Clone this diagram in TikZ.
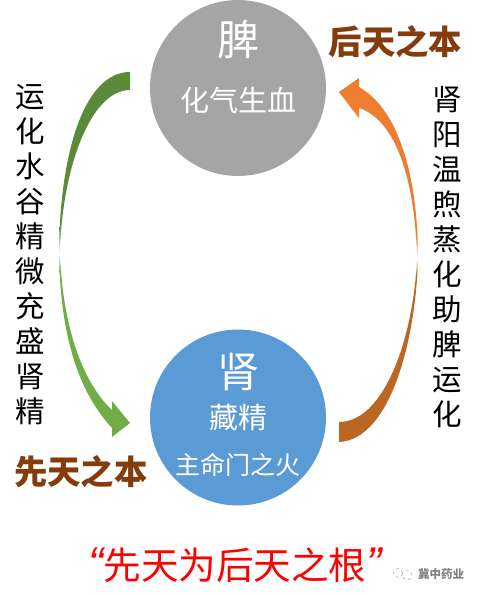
\documentclass[tikz,border=0pt]{standalone}
\usepackage{fontspec}
\setmainfont{Noto Sans CJK SC}
\newfontfamily\quotefont{Liberation Sans}
\definecolor{spleen}{HTML}{A5A5A5}
\definecolor{kidney}{HTML}{5B9BD5}
\definecolor{brownlabel}{HTML}{843C0C}
\definecolor{greenA}{HTML}{5B8B38}
\definecolor{greenB}{HTML}{70AD47}
\definecolor{orangeA}{HTML}{ED7D31}
\definecolor{orangeB}{HTML}{BC6624}
\newcommand{\fs}[1]{\fontsize{#1}{#1}\selectfont}
\tikzset{
  organ/.style={circle,minimum size=176pt,inner sep=0pt},
  big/.style={text=white,font=\fs{42},inner sep=0pt},
  mid/.style={text=white,font=\fs{29},inner sep=0pt},
  small/.style={text=white,font=\fs{25},inner sep=0pt},
  rootlabel/.style={text=brownlabel,font=\fs{33.4}\bfseries,inner sep=0pt},
  column/.style={align=center,inner sep=0pt,font=\fontsize{29.5}{35}\selectfont},
}
\begin{document}
\begin{tikzpicture}[x=1pt,y=-1pt]
\useasboundingbox (0,0) rectangle (478,595);
\node[organ,fill=spleen] (pi) at (238,88) {};
\node[organ,fill=kidney] (shen) at (238,417.5) {};
\node[big] (pit) at (238,40) {脾};
\node[mid] (pis) at (238,100) {化气生血};
\node[big] (shent) at (238,372) {肾};
\node[mid] (shens) at (238,418) {藏精};
\node[small] (shenf) at (238,465) {主命门之火};
\node[rootlabel] (hou) at (395.5,42) {后天之本};
\node[rootlabel] (xian) at (81,472) {先天之本};
\node[column] (lcol) at (30,254.5) {运\\化\\水\\谷\\精\\微\\充\\盛\\肾\\精};
\node[column] (rcol) at (447,257.5) {肾\\阳\\温\\煦\\蒸\\化\\助\\脾\\运\\化};
\node[text=red,font=\fs{37.6},inner sep=0pt] (root) at (235,565) {{\quotefont\itshape\fontsize{46}{46}\selectfont “}先天为后天之根{\quotefont\itshape\fontsize{46}{46}\selectfont ”}};
% green arrow, spleen to kidney
\coordinate (gTailA) at (130,72);
\coordinate (gTailB) at (130,90);
\coordinate (gThinA) at (59,252);
\coordinate (gThinB) at (60,252);
\coordinate (gNeckA) at (112,428);
\coordinate (gNeckB) at (112,410);
\coordinate (gHeadA) at (112,437);
\coordinate (gHeadB) at (112,401);
\coordinate (gTip) at (130,423);
\begin{scope}
\clip (gTailA) .. controls (85,72) and (60,150) .. (gThinA)
  .. controls (60,320) and (72,385) .. (gNeckA) -- (gHeadA) -- (gTip) -- (gHeadB) -- (gNeckB)
  .. controls (80,380) and (62,320) .. (gThinB)
  .. controls (62,170) and (90,90) .. (gTailB) -- cycle;
\fill[greenA] (50,60) rectangle (140,225);
\shade[top color=greenA,bottom color=white] (50,225) rectangle (140,254);
\shade[top color=white,bottom color=greenB] (50,254) rectangle (140,272);
\fill[greenB] (50,272) rectangle (140,445);
\end{scope}
% orange arrow, kidney to spleen
\coordinate (oTailA) at (339,442);
\coordinate (oTailB) at (339,422);
\coordinate (oThinA) at (418,258);
\coordinate (oThinB) at (417,258);
\coordinate (oNeckA) at (359,87);
\coordinate (oNeckB) at (359,108);
\coordinate (oHeadA) at (359,78);
\coordinate (oHeadB) at (359,118);
\coordinate (oTip) at (339,92);
\begin{scope}
\clip (oTailA) .. controls (390,440) and (416,340) .. (oThinA)
  .. controls (418,180) and (400,110) .. (oNeckA) -- (oHeadA) -- (oTip) -- (oHeadB) -- (oNeckB)
  .. controls (396,120) and (415,180) .. (oThinB)
  .. controls (414,335) and (385,422) .. (oTailB) -- cycle;
\fill[orangeA] (330,70) rectangle (425,235);
\shade[top color=orangeA,bottom color=white] (330,235) rectangle (425,258);
\shade[top color=white,bottom color=orangeB] (330,258) rectangle (425,275);
\fill[orangeB] (330,275) rectangle (425,450);
\end{scope}
% watermark
\node[circle,draw=gray!70,dashed,line width=.5pt,minimum size=9pt,inner sep=0pt] (wa) at (398,573) {};
\node[circle,draw=gray!70,dashed,line width=.5pt,minimum size=10pt,inner sep=0pt] (wb) at (407,575) {};
\node[text=gray,font=\fs{11.5}\bfseries,inner sep=0pt] (wm) at (441,574) {冀中药业};
\end{tikzpicture}
\end{document}
